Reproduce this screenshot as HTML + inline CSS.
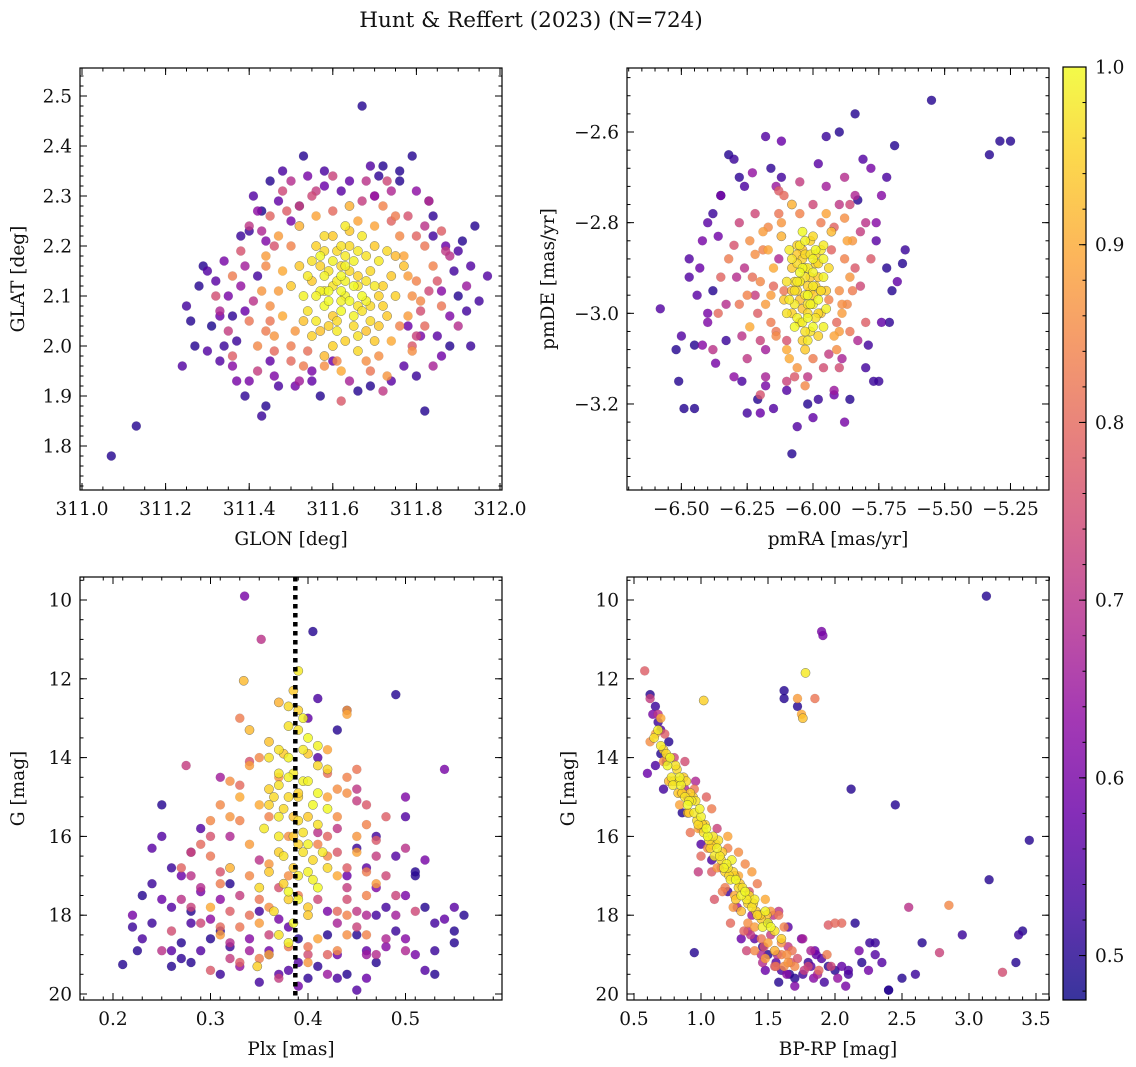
<!DOCTYPE html>
<html><head><meta charset="utf-8"><style>
body{margin:0;background:#fff;}
svg{display:block;font-family:"DejaVu Serif","Liberation Serif",serif;}
</style></head><body>
<svg id="fig" width="1136" height="1067" viewBox="0 0 1136 1067" xmlns="http://www.w3.org/2000/svg">
<rect width="1136" height="1067" fill="#fff"/>
<text x="531" y="27" font-size="21.5" text-anchor="middle" fill="#111">Hunt &amp; Reffert (2023) (N=724)</text>
<defs><linearGradient id="cbg" x1="0" y1="1" x2="0" y2="0">
<stop offset="0" stop-color="#0d0887"/><stop offset="0.1" stop-color="#41049d"/><stop offset="0.2" stop-color="#6a00a8"/><stop offset="0.3" stop-color="#8f0da4"/><stop offset="0.4" stop-color="#b12a90"/><stop offset="0.5" stop-color="#cc4778"/><stop offset="0.6" stop-color="#e16462"/><stop offset="0.7" stop-color="#f2844b"/><stop offset="0.8" stop-color="#fca636"/><stop offset="0.9" stop-color="#fcce25"/><stop offset="1" stop-color="#f0f921"/>
</linearGradient></defs>
</svg>
<script>
// ---------- Panel 1: GLON / GLAT ----------
const p1GlonHi=[311.60,311.63,311.66,311.58,311.70,311.62,311.55,311.65,311.68,311.57,
311.72,311.61,311.64,311.53,311.59,311.67,311.74,311.56,311.63,311.69,
311.60,311.66,311.71,311.52,311.58,311.65,311.62,311.75,311.54,311.67,
311.61,311.70,311.57,311.64,311.68,311.59,311.73,311.50,311.63,311.55,
311.77,311.66,311.62,311.58];
const p1GlatHi=[2.12,2.10,2.14,2.08,2.12,2.16,2.13,2.06,2.18,2.18,
2.08,2.03,2.20,2.10,2.15,2.10,2.14,2.05,2.13,2.05,
2.00,2.02,2.17,2.16,2.22,2.17,2.07,2.10,2.07,2.22,
2.19,2.01,2.11,2.09,2.13,2.04,2.19,2.12,2.24,2.02,
2.16,1.99,2.11,2.14];
const p1ProbHi=[0.97,0.99,0.95,1.00,0.98,0.96,0.94,0.99,0.97,1.00,
0.95,0.98,0.96,0.99,0.97,1.00,0.94,0.98,0.99,0.96,
0.95,0.97,0.98,0.94,0.96,0.99,1.00,0.95,0.97,0.98,
0.96,0.94,0.99,1.00,0.97,0.95,0.96,0.94,0.98,0.95,
0.93,0.96,1.00,0.99];
const p1GlonHi2=[311.61,311.64,311.59,311.66,311.62,311.57,311.69,311.63,311.60,311.67,
311.56,311.71,311.65,311.58,311.62,311.68,311.54,311.73,311.60,311.65,
311.63,311.59,311.70,311.55,311.66,311.61,311.72,311.57,311.64,311.68,
311.53,311.62,311.75,311.58,311.66,311.60,311.69,311.56,311.63,311.71];
const p1GlatHi2=[2.13,2.15,2.11,2.08,2.09,2.16,2.15,2.18,2.06,2.07,
2.10,2.10,2.12,2.19,2.20,2.03,2.14,2.06,2.17,2.04,
2.01,2.09,2.20,2.17,2.19,2.05,2.12,2.03,2.23,2.09,
2.05,2.14,2.18,2.11,2.12,2.22,2.08,2.20,2.16,2.04];
const p1ProbHi2=[0.98,0.96,1.00,0.97,0.99,0.95,0.96,0.98,0.94,0.97,
0.99,0.95,1.00,0.96,0.97,0.93,0.98,0.94,0.99,0.96,
0.95,1.00,0.94,0.97,0.98,0.96,0.95,0.93,0.94,0.99,
0.93,1.00,0.92,0.98,0.97,0.94,0.96,0.95,0.99,0.94];
const p1GlonMid=[311.48,311.45,311.78,311.80,311.52,311.70,311.76,311.46,311.50,311.74,
311.58,311.68,311.44,311.82,311.56,311.64,311.72,311.43,311.81,311.53,
311.47,311.79,311.40,311.84,311.62,311.73,311.42,311.66,311.36,311.86,
311.38,311.35,311.88,311.86,311.55,311.74,311.45,311.80,311.52,311.72,
311.32,311.90,311.62,311.42,311.84,311.48,311.68,311.36,311.92,311.60,
311.33,311.78,311.40,311.83,311.50];
const p1GlatMid=[2.15,2.08,2.06,2.13,2.24,2.24,2.22,2.02,2.00,2.01,
1.98,1.97,2.18,2.20,2.26,2.28,2.28,2.11,2.09,1.96,
2.22,1.99,2.05,2.16,1.95,1.94,2.00,2.25,2.14,2.08,
2.19,2.03,2.18,2.23,2.30,2.31,2.26,2.02,1.93,1.91,
2.10,2.04,1.89,1.95,1.96,2.31,2.33,1.98,2.12,2.34,
2.07,2.26,2.24,2.29,1.97];
const p1ProbMid=[0.90,0.86,0.88,0.84,0.91,0.89,0.85,0.87,0.83,0.90,
0.92,0.86,0.88,0.82,0.89,0.91,0.84,0.87,0.85,0.83,
0.88,0.86,0.82,0.84,0.90,0.87,0.85,0.89,0.83,0.82,
0.76,0.72,0.70,0.78,0.74,0.68,0.79,0.73,0.66,0.71,
0.75,0.69,0.77,0.72,0.67,0.74,0.70,0.78,0.65,0.73,
0.68,0.76,0.71,0.69,0.80];
const p1GlonMid2=[311.47,311.79,311.50,311.77,311.45,311.82,311.49,311.75,311.51,311.80,
311.44,311.78,311.54,311.71,311.46,311.83,311.60,311.67,311.41,311.85,
311.48,311.76,311.52,311.74,311.43,311.81,311.58,311.69,311.39,311.87,
311.50,311.73,311.46,311.79,311.56,311.64,311.44,311.82,311.61,311.70];
const p1GlatMid2=[2.11,2.10,2.20,2.18,2.05,2.04,2.27,2.26,2.03,2.22,
2.16,2.14,1.99,1.98,2.20,2.11,2.27,2.29,2.09,2.13,
2.06,2.04,2.28,2.25,2.23,2.07,1.96,1.95,2.16,2.19,
2.33,2.33,1.99,2.00,2.31,1.93,2.03,2.24,1.97,2.30];
const p1ProbMid2=[0.88,0.86,0.84,0.89,0.82,0.80,0.78,0.83,0.87,0.79,
0.85,0.88,0.81,0.86,0.76,0.74,0.80,0.72,0.70,0.77,
0.90,0.84,0.73,0.79,0.68,0.75,0.86,0.82,0.66,0.71,
0.69,0.74,0.80,0.77,0.72,0.67,0.83,0.70,0.85,0.65];
const p1GlonLo=[311.30,311.28,311.34,311.38,311.33,311.31,311.25,311.36,311.39,311.45,
311.47,311.55,311.66,311.74,311.80,311.86,311.88,311.90,311.93,311.89,
311.87,311.84,311.80,311.76,311.62,311.58,311.54,311.52,311.47,311.43,
311.41,311.44,311.42,311.39,311.53,311.67,311.69,311.72,311.76,311.97,
311.94,311.82,311.43,311.44,311.40,311.37,311.57,311.69,311.93,311.07,
311.13,311.24,311.26,311.27,311.30,311.34,311.78,311.92,311.85];
const p1GlatLo=[2.15,2.12,2.17,2.22,2.06,2.04,2.08,1.96,1.90,1.97,
1.92,1.95,1.91,1.93,1.94,1.98,2.06,2.10,2.16,2.15,
2.20,2.26,2.31,2.33,2.31,2.35,2.34,2.28,2.29,2.27,
2.30,2.21,2.14,2.07,2.38,2.48,2.36,2.36,2.35,2.14,
2.24,1.87,1.86,1.88,1.93,1.93,1.90,1.92,2.00,1.78,
1.84,1.96,2.05,2.00,1.99,2.00,2.04,2.07,2.02];
const p1ProbLo=[0.55,0.50,0.60,0.52,0.58,0.49,0.53,0.62,0.51,0.57,
0.54,0.60,0.50,0.56,0.52,0.59,0.61,0.50,0.55,0.53,
0.58,0.51,0.63,0.50,0.56,0.54,0.60,0.52,0.57,0.49,
0.55,0.61,0.53,0.58,0.50,0.50,0.55,0.50,0.50,0.55,
0.50,0.50,0.52,0.50,0.60,0.60,0.50,0.50,0.52,0.50,
0.50,0.55,0.50,0.50,0.55,0.52,0.58,0.53,0.56];
const p1GlonLo2=[311.35,311.37,311.32,311.29,311.42,311.48,311.58,311.71,311.83,311.91,
311.95,311.86,311.79,311.64,311.50,311.40,311.33,311.46,311.88,311.60,
311.38,311.84,311.77,311.51,311.36,311.90,311.45,311.70,311.55,311.81];
const p1GlatLo2=[2.10,2.01,2.13,2.16,2.27,2.35,2.32,2.34,2.29,2.21,
2.09,2.11,2.38,2.33,2.25,2.23,1.97,1.94,2.00,1.97,
2.12,2.22,1.96,1.92,2.06,2.19,2.33,2.30,1.93,2.02];
const p1ProbLo2=[0.60,0.52,0.56,0.50,0.63,0.54,0.58,0.51,0.55,0.50,
0.53,0.62,0.50,0.57,0.60,0.52,0.55,0.61,0.50,0.58,
0.64,0.53,0.56,0.59,0.51,0.54,0.50,0.62,0.57,0.60];

// ---------- Panel 2: pmRA / pmDE ----------
const p2PmraHi=[-6.03,-6.00,-6.06,-5.98,-6.05,-6.02,-6.08,-5.96,-6.01,-6.04,
-5.99,-6.07,-6.03,-5.95,-6.10,-6.02,-6.05,-5.97,-6.00,-6.06,
-6.04,-5.99,-6.09,-6.01,-5.94,-6.03,-6.07,-5.98,-6.02,-6.05,
-6.00,-6.11,-5.96,-6.04,-6.01,-6.08,-5.97,-6.03,-6.06,-5.99];
const p2PmdeHi=[-2.92,-2.88,-2.95,-2.97,-2.85,-3.00,-2.90,-2.92,-3.04,-2.82,
-2.94,-2.98,-2.87,-2.99,-2.93,-2.96,-3.02,-2.86,-2.91,-2.89,
-3.06,-3.01,-2.86,-2.95,-2.90,-2.84,-3.03,-3.05,-2.98,-2.93,
-2.83,-2.97,-3.03,-2.90,-2.87,-3.00,-2.95,-3.08,-2.93,-2.89];
const p2ProbHi=[0.97,0.99,0.95,1.00,0.98,0.96,0.94,0.99,0.97,1.00,
0.95,0.98,0.96,0.99,0.97,1.00,0.94,0.98,0.99,0.96,
0.95,0.97,0.98,0.94,0.96,0.99,1.00,0.95,0.97,0.98,
0.96,0.94,0.99,1.00,0.97,0.95,0.96,0.94,0.98,0.95];
const p2PmraHi2=[-6.02,-6.05,-5.99,-6.07,-6.00,-6.04,-5.97,-6.09,-6.01,-6.03,
-5.96,-6.06,-6.02,-5.98,-6.08,-6.04,-6.00,-5.95,-6.06,-6.03,
-6.01,-6.05,-5.98,-6.10,-6.02,-6.07,-5.99,-6.04,-5.97,-6.01,
-6.05,-6.00,-6.08,-5.96,-6.03,-6.06,-5.98,-6.02,-6.04,-6.00];
const p2PmdeHi2=[-2.90,-2.93,-2.86,-2.95,-2.98,-2.88,-2.95,-2.97,-2.92,-2.96,
-2.88,-2.85,-3.01,-3.00,-2.88,-2.99,-2.94,-2.95,-3.01,-2.90,
-2.84,-2.91,-2.92,-3.00,-3.06,-2.93,-2.87,-2.86,-3.00,-2.98,
-2.97,-3.03,-2.95,-2.85,-3.04,-2.87,-2.89,-2.94,-3.02,-2.96];
const p2ProbHi2=[0.98,0.96,1.00,0.97,0.99,0.95,0.96,0.98,0.94,0.97,
0.99,0.95,1.00,0.96,0.97,0.93,0.98,0.94,0.99,0.96,
0.95,1.00,0.94,0.97,0.98,0.96,0.95,0.93,0.94,0.99,
0.93,1.00,0.92,0.98,0.97,0.94,0.96,0.95,0.99,0.94];
const p2PmraMid=[-6.15,-5.90,-6.18,-5.88,-6.12,-5.92,-6.20,-5.86,-6.16,-6.10,
-5.93,-6.22,-5.89,-6.13,-5.95,-6.08,-6.25,-5.85,-6.14,-6.00,
-6.19,-5.91,-6.11,-5.94,-6.24,-6.06,-5.87,-6.17,-5.97,-6.28,
-6.30,-5.82,-6.27,-5.80,-6.22,-5.84,-6.35,-6.10,-5.95,-6.25,
-5.90,-6.33,-5.78,-6.05,-6.18,-5.86,-6.38,-6.13,-5.92,-6.28,
-5.83,-6.20,-6.02,-5.88,-6.36];
const p2PmdeMid=[-2.90,-2.95,-2.98,-2.88,-2.83,-3.05,-2.93,-2.92,-3.02,-3.08,
-2.82,-2.87,-3.00,-2.78,-2.78,-2.76,-2.96,-2.84,-3.05,-3.10,
-2.82,-3.08,-2.95,-2.97,-3.03,-3.12,-2.98,-2.86,-2.80,-2.98,
-2.85,-2.82,-3.05,-3.02,-2.78,-2.74,-2.92,-3.15,-2.72,-3.10,
-3.12,-2.98,-2.88,-2.71,-3.14,-2.76,-3.08,-2.73,-3.17,-2.80,
-3.06,-3.18,-3.14,-2.70,-3.00];
const p2ProbMid=[0.90,0.86,0.88,0.84,0.91,0.89,0.85,0.87,0.83,0.90,
0.92,0.86,0.88,0.82,0.89,0.91,0.84,0.87,0.85,0.83,
0.88,0.86,0.82,0.84,0.90,0.87,0.85,0.89,0.83,0.82,
0.76,0.72,0.70,0.78,0.74,0.68,0.79,0.73,0.66,0.71,
0.75,0.69,0.77,0.72,0.67,0.74,0.70,0.78,0.65,0.73,
0.68,0.76,0.71,0.69,0.80];
const p2PmraMid2=[-6.16,-5.89,-6.19,-5.87,-6.14,-5.91,-6.21,-5.85,-6.12,-5.93,
-6.17,-5.90,-6.23,-5.88,-6.10,-6.00,-6.15,-5.94,-6.26,-5.84,
-6.09,-6.05,-6.20,-5.92,-6.13,-5.96,-6.24,-5.86,-6.18,-5.90,
-6.29,-5.82,-6.11,-6.07,-6.22,-5.89,-6.32,-5.80,-6.03,-6.14];
const p2PmdeMid2=[-2.96,-2.98,-2.86,-2.84,-3.04,-3.02,-3.00,-2.95,-2.80,-2.86,
-2.81,-3.04,-2.92,-2.79,-3.06,-2.76,-2.94,-3.09,-2.90,-2.90,
-3.10,-2.78,-3.06,-2.81,-2.88,-3.12,-2.84,-3.04,-3.08,-2.76,
-2.92,-2.94,-2.74,-3.14,-2.96,-3.10,-2.88,-2.80,-3.16,-2.72];
const p2ProbMid2=[0.88,0.86,0.84,0.89,0.82,0.80,0.78,0.83,0.87,0.79,
0.85,0.88,0.81,0.86,0.76,0.74,0.80,0.72,0.70,0.77,
0.90,0.84,0.73,0.79,0.68,0.75,0.86,0.82,0.66,0.71,
0.69,0.74,0.80,0.77,0.72,0.67,0.83,0.70,0.85,0.65];
const p2PmraLo=[-5.55,-5.33,-5.29,-5.25,-5.84,-6.58,-6.51,-6.49,-6.45,-6.08,
-6.06,-5.75,-5.69,-5.65,-5.66,-5.88,-6.32,-6.30,-6.18,-6.12,
-5.95,-5.90,-6.50,-6.45,-6.42,-6.37,-6.21,-6.15,-5.79,-5.77,
-6.40,-6.43,-6.38,-5.72,-5.70,-5.74,-6.35,-6.28,-5.81,-6.25,
-6.02,-5.98,-6.47,-6.40,-5.76];
const p2PmdeLo=[-2.53,-2.65,-2.62,-2.62,-2.56,-2.99,-3.15,-3.21,-3.21,-3.31,
-3.25,-3.15,-2.63,-2.86,-2.89,-3.24,-2.65,-2.66,-2.61,-2.62,
-2.61,-2.60,-3.05,-3.07,-3.07,-3.11,-3.19,-3.21,-3.07,-3.15,
-2.80,-2.90,-2.95,-2.70,-2.95,-3.02,-2.74,-2.70,-2.66,-3.22,
-3.20,-3.19,-2.92,-3.00,-2.84];
const p2ProbLo=[0.50,0.50,0.50,0.50,0.50,0.55,0.50,0.50,0.50,0.50,
0.55,0.52,0.50,0.52,0.50,0.60,0.50,0.52,0.55,0.58,
0.52,0.50,0.55,0.50,0.62,0.60,0.50,0.55,0.53,0.52,
0.56,0.58,0.50,0.54,0.50,0.57,0.60,0.51,0.55,0.53,
0.50,0.52,0.55,0.60,0.56];
const p2PmraLo2=[-6.42,-6.38,-6.44,-6.35,-6.30,-6.26,-6.20,-6.16,-6.10,-5.86,
-5.80,-5.74,-5.72,-5.68,-5.78,-6.33,-6.47,-6.40,-5.83,-5.92,
-6.23,-6.12,-5.98,-6.36,-5.71,-6.27,-6.52,-5.76,-6.00,-6.18];
const p2PmdeLo2=[-2.84,-2.78,-2.96,-2.74,-3.14,-2.72,-3.22,-2.68,-3.17,-3.19,
-3.12,-2.74,-2.90,-2.93,-2.68,-3.06,-2.88,-3.02,-2.75,-3.18,
-2.69,-2.70,-2.67,-2.83,-3.02,-3.15,-3.08,-2.80,-3.23,-3.16];
const p2ProbLo2=[0.60,0.52,0.56,0.50,0.63,0.54,0.58,0.51,0.55,0.50,
0.53,0.62,0.50,0.57,0.60,0.52,0.55,0.61,0.50,0.58,
0.64,0.53,0.56,0.59,0.51,0.54,0.50,0.62,0.57,0.60];

// ---------- Panel 3: Plx / G ----------
const p3PlxHi=[0.36,0.38,0.39,0.40,0.37,0.41,0.385,0.395,0.375,0.405,
0.36,0.39,0.38,0.40,0.37,0.41,0.385,0.355,0.395,0.42,
0.38,0.39,0.37,0.40,0.365,0.41,0.385,0.375,0.395,0.39,
0.35,0.40,0.38,0.42,0.37,0.39,0.405,0.36,0.334,0.348];
const p3GHi=[14.0,14.5,15.0,13.5,15.5,14.2,16.0,13.0,16.5,15.2,
14.8,17.0,12.7,16.2,13.8,17.3,12.3,15.8,14.6,16.8,
17.6,13.3,16.0,17.8,15.0,13.7,18.2,17.2,16.4,11.8,
17.3,15.5,14.0,15.3,18.5,14.9,16.6,16.9,12.05,19.3];
const p3ProbHi=[0.97,0.99,0.95,1.00,0.98,0.96,0.94,0.99,0.97,1.00,
0.95,0.98,0.96,0.99,0.97,1.00,0.94,0.98,0.99,0.96,
0.95,0.97,0.98,0.94,0.96,0.99,1.00,0.95,0.97,0.98,
0.96,0.94,0.99,1.00,0.97,0.95,0.96,0.94,0.92,0.95];
const p3PlxHi2=[0.37,0.39,0.41,0.38,0.40,0.36,0.42,0.385,0.375,0.395,
0.40,0.37,0.39,0.38,0.41,0.36,0.395,0.385,0.405,0.375,
0.39,0.38,0.40,0.37,0.415,0.365,0.39,0.385,0.40,0.38];
const p3GHi2=[14.4,15.6,14.9,13.2,16.9,15.2,14.3,14.4,13.9,15.9,
14.6,16.4,17.6,15.0,15.7,13.6,13.8,16.8,17.1,15.3,
16.2,17.4,13.9,14.7,16.4,17.9,12.8,15.5,18.0,18.7];
const p3ProbHi2=[0.98,0.96,1.00,0.97,0.99,0.95,0.96,0.98,0.94,0.97,
0.99,0.95,1.00,0.96,0.97,0.93,0.98,0.94,0.99,0.96,
0.95,1.00,0.94,0.97,0.98,0.96,0.95,0.93,0.94,0.99];
const p3PlxMid=[0.33,0.43,0.34,0.44,0.32,0.42,0.35,0.45,0.31,0.43,
0.34,0.36,0.44,0.33,0.41,0.37,0.46,0.32,0.42,0.38,
0.35,0.43,0.30,0.44,0.36,0.40,0.34,0.42,0.33,0.45,
0.31,0.38,0.41,0.35,0.43,0.37,0.44,0.39,0.32,0.46,
0.30,0.47,0.28,0.48,0.29,0.46,0.27,0.49,0.31,0.45,
0.26,0.47,0.30,0.44,0.352,0.275,0.50,0.33,0.42,0.28,
0.48,0.34,0.43,0.32,0.29,0.51,0.25,0.46,0.37,0.40];
const p3GMid=[15.0,15.5,16.2,14.5,16.8,13.8,14.0,16.0,17.2,17.0,
13.3,17.8,12.8,18.3,18.6,12.6,17.5,15.5,16.5,18.8,
18.2,14.8,16.5,18.0,19.0,19.2,17.0,15.0,13.0,14.3,
18.5,17.0,16.2,15.2,18.9,14.5,12.9,17.5,14.6,15.7,
16.0,16.5,17.0,15.5,18.2,18.0,16.8,17.5,14.5,14.8,
18.4,19.0,19.4,17.3,11.0,14.2,16.3,19.2,19.5,17.8,
18.6,14.1,15.8,18.7,16.2,17.9,18.9,15.2,19.6,19.0];
const p3ProbMid=[0.90,0.86,0.88,0.84,0.91,0.89,0.85,0.87,0.83,0.90,
0.92,0.86,0.88,0.82,0.89,0.91,0.84,0.87,0.85,0.83,
0.88,0.86,0.82,0.84,0.90,0.87,0.85,0.89,0.83,0.82,
0.88,0.86,0.84,0.90,0.85,0.87,0.89,0.83,0.86,0.84,
0.76,0.72,0.70,0.78,0.74,0.68,0.79,0.73,0.66,0.71,
0.75,0.69,0.77,0.72,0.70,0.72,0.70,0.78,0.65,0.73,
0.68,0.76,0.71,0.69,0.80,0.74,0.70,0.77,0.72,0.75];
const p3PlxMid2=[0.34,0.44,0.33,0.45,0.35,0.43,0.32,0.46,0.36,0.42,
0.31,0.47,0.34,0.44,0.37,0.41,0.33,0.45,0.35,0.43,
0.30,0.46,0.36,0.42,0.32,0.44,0.38,0.40,0.34,0.45,
0.29,0.48,0.31,0.47,0.33,0.43,0.35,0.41,0.30,0.46,
0.27,0.49,0.28,0.50,0.32,0.44,0.36,0.42,0.31,0.45];
const p3GMid2=[14.2,14.9,15.6,16.4,17.6,17.9,17.9,16.9,16.7,16.0,
15.2,17.2,18.0,18.5,17.3,17.6,14.7,15.1,16.6,16.4,
17.8,18.5,18.5,19.0,16.0,17.6,16.0,18.8,18.9,17.9,
17.3,17.0,18.3,16.1,17.5,18.2,19.1,15.9,15.6,19.0,
17.6,18.0,16.4,18.9,19.1,16.8,15.5,14.4,16.9,18.3];
const p3ProbMid2=[0.88,0.86,0.84,0.89,0.82,0.80,0.78,0.83,0.87,0.79,
0.85,0.88,0.81,0.86,0.76,0.74,0.80,0.72,0.70,0.77,
0.90,0.84,0.73,0.79,0.68,0.75,0.86,0.82,0.66,0.71,
0.69,0.74,0.80,0.77,0.72,0.67,0.83,0.70,0.85,0.65,
0.70,0.66,0.74,0.68,0.72,0.78,0.84,0.81,0.76,0.73];
const p3PlxLo=[0.335,0.405,0.49,0.21,0.225,0.23,0.54,0.55,0.56,0.25,
0.26,0.24,0.27,0.22,0.28,0.29,0.30,0.31,0.25,0.27,
0.32,0.44,0.45,0.47,0.48,0.50,0.51,0.52,0.53,0.49,
0.46,0.43,0.42,0.41,0.44,0.40,0.37,0.36,0.38,0.35,
0.39,0.45,0.50,0.52,0.55,0.26,0.28,0.47,0.41,0.43];
const p3GLo=[9.9,10.8,12.4,19.25,18.9,17.5,14.3,18.7,18.0,15.2,
17.8,18.2,18.7,18.3,19.2,17.4,18.6,19.5,16.0,17.0,
18.8,19.5,19.9,19.2,18.8,17.5,17.0,19.4,18.2,18.4,
16.8,19.0,18.5,12.5,12.8,13.0,18.1,19.0,19.4,17.9,
18.6,16.3,15.5,16.6,17.8,19.3,16.4,18.0,14.0,13.3];
const p3ProbLo=[0.60,0.50,0.50,0.50,0.50,0.50,0.60,0.50,0.50,0.50,
0.55,0.52,0.50,0.52,0.50,0.60,0.50,0.52,0.55,0.58,
0.52,0.50,0.55,0.50,0.62,0.60,0.50,0.55,0.53,0.52,
0.56,0.58,0.50,0.54,0.50,0.57,0.60,0.51,0.55,0.53,
0.50,0.52,0.55,0.60,0.56,0.50,0.58,0.53,0.55,0.50];
const p3PlxLo2=[0.22,0.24,0.26,0.28,0.30,0.23,0.25,0.27,0.29,0.31,
0.48,0.50,0.52,0.54,0.51,0.53,0.49,0.47,0.55,0.46,
0.33,0.35,0.37,0.39,0.41,0.43,0.45,0.34,0.38,0.42,
0.26,0.29,0.32,0.44,0.47,0.50,0.53,0.24,0.28,0.36,
0.40,0.46,0.51,0.31,0.39];
const p3GLo2=[18.0,17.2,18.9,17.9,18.1,18.6,17.6,19.1,18.9,18.4,
17.8,18.6,17.8,18.1,19.0,18.9,16.5,17.3,18.4,19.6,
19.3,19.7,19.5,19.8,19.3,19.6,18.5,18.6,18.3,17.9,
16.8,15.8,17.2,17.0,16.0,15.0,19.5,16.3,18.2,18.9,
19.6,18.9,16.9,17.6,19.2];
const p3ProbLo2=[0.60,0.52,0.56,0.50,0.63,0.54,0.58,0.51,0.55,0.50,
0.53,0.62,0.50,0.57,0.60,0.52,0.55,0.61,0.50,0.58,
0.64,0.53,0.56,0.59,0.51,0.54,0.50,0.62,0.57,0.60,
0.52,0.55,0.50,0.58,0.53,0.61,0.50,0.56,0.54,0.59,
0.51,0.57,0.50,0.63,0.55];
const p3PlxLine=0.387;

// ---------- Panel 4: BP-RP / G ----------
const p4ColHi=[0.65,0.68,0.72,0.75,0.78,0.80,0.83,0.85,0.88,0.90,
0.92,0.95,0.97,1.00,1.02,1.05,1.08,1.10,1.12,1.15,
1.18,1.20,1.22,1.25,1.28,1.30,1.33,1.35,1.38,1.40,
1.42,1.45,1.48,1.50,1.55,1.60,0.82,0.87,0.93,1.03,
1.13,1.23,1.02,1.78,1.76];
const p4GHi=[13.5,13.3,13.8,14.2,14.5,14.6,14.9,14.7,15.0,15.2,
14.9,15.4,15.6,15.5,15.9,16.0,16.2,16.5,16.3,16.6,
16.9,16.8,17.1,17.0,17.3,17.5,17.4,17.7,17.8,17.6,
18.0,18.1,17.9,18.2,18.4,18.6,14.3,14.5,15.1,15.7,
16.1,16.6,12.55,11.85,13.0];
const p4ProbHi=[0.97,0.99,0.95,1.00,0.98,0.96,0.94,0.99,0.97,1.00,
0.95,0.98,0.96,0.99,0.97,1.00,0.94,0.98,0.99,0.96,
0.95,0.97,0.98,0.94,0.96,0.99,1.00,0.95,0.97,0.98,
0.96,0.94,0.99,1.00,0.97,0.95,0.96,0.94,0.98,0.95,
0.97,0.99,0.95,0.98,0.93];
const p4ColHi2=[0.70,0.74,0.77,0.81,0.84,0.86,0.89,0.91,0.94,0.96,
0.99,1.01,1.04,1.06,1.09,1.11,1.14,1.16,1.19,1.21,
1.24,1.26,1.29,1.31,1.34,1.36,1.39,1.41,1.44,1.46,
1.49,1.52,0.76,0.79,0.84,0.91,0.98,1.07,1.17,1.26];
const p4GHi2=[13.7,13.9,14.0,14.2,14.5,14.9,14.6,15.1,15.0,15.1,
15.3,15.7,15.8,16.1,16.0,16.2,16.5,16.4,16.7,17.0,
16.9,17.1,17.2,17.3,17.6,17.5,17.7,17.9,18.0,18.3,
18.0,18.3,14.6,14.7,14.6,15.4,15.7,16.3,16.8,17.6];
const p4ProbHi2=[0.98,0.96,1.00,0.97,0.99,0.95,0.96,0.98,0.94,0.97,
0.99,0.95,1.00,0.96,0.97,0.93,0.98,0.94,0.99,0.96,
0.95,1.00,0.94,0.97,0.98,0.96,0.95,0.93,0.94,0.99,
0.93,1.00,0.92,0.98,0.97,0.94,0.96,0.95,0.99,0.94];
const p4ColMid=[0.70,0.62,0.75,0.85,0.90,0.98,1.05,1.12,1.18,1.25,
1.30,1.35,1.40,1.45,1.50,1.55,1.60,1.65,1.70,1.42,
1.38,1.28,1.58,1.62,1.48,1.52,1.33,1.20,1.08,0.95,
1.72,1.75,1.85,2.05,2.85,0.58,0.62,0.68,0.73,0.80,
0.88,1.00,1.15,1.27,1.37,1.47,1.57,1.67,1.77,1.87,
1.97,2.00,1.95,3.25,2.78,2.55,1.45,1.55,1.65,1.35];
const p4GMid=[13.0,13.6,14.0,14.9,15.4,15.8,16.3,16.8,17.3,17.5,
17.9,18.2,18.3,18.6,18.7,18.9,19.0,19.2,19.3,17.2,
16.9,16.4,18.0,18.3,17.6,17.9,16.7,16.0,15.3,14.8,
12.5,12.9,12.5,18.2,17.75,11.8,12.5,12.9,13.4,14.0,
14.8,15.8,16.8,17.8,18.5,18.8,19.0,19.2,19.4,19.5,
19.3,18.2,18.25,19.45,18.95,17.8,19.0,19.3,18.8,18.4];
const p4ProbMid=[0.90,0.86,0.88,0.84,0.91,0.89,0.85,0.87,0.83,0.90,
0.92,0.86,0.88,0.82,0.89,0.91,0.84,0.87,0.85,0.83,
0.88,0.86,0.82,0.84,0.90,0.87,0.85,0.89,0.83,0.82,
0.88,0.90,0.82,0.80,0.85,0.78,0.72,0.70,0.78,0.74,
0.68,0.79,0.73,0.66,0.71,0.75,0.69,0.77,0.72,0.67,
0.74,0.80,0.78,0.75,0.73,0.70,0.68,0.76,0.71,0.69];
const p4ColMid2=[0.66,0.72,0.78,0.84,0.92,1.00,1.08,1.16,1.24,1.32,
1.40,1.48,1.56,1.64,1.72,1.80,1.88,1.52,1.44,1.36,
1.28,1.20,1.12,1.04,0.96,0.88,1.60,1.68,1.76,1.58,
1.46,1.34,1.22,1.10,0.98,1.82,1.94,1.54,1.62,1.38];
const p4GMid2=[13.4,14.1,14.6,15.2,15.9,16.5,16.9,17.4,17.8,18.4,
18.9,19.1,19.3,19.0,19.1,19.3,19.4,18.5,18.0,17.4,
17.0,16.3,15.8,15.0,14.6,14.1,18.7,18.9,18.6,17.9,
19.2,18.9,18.2,17.6,16.9,18.9,19.0,18.0,19.3,18.0];
const p4ProbMid2=[0.88,0.86,0.84,0.89,0.82,0.80,0.78,0.83,0.87,0.79,
0.85,0.88,0.81,0.86,0.76,0.74,0.80,0.72,0.70,0.77,
0.90,0.84,0.73,0.79,0.68,0.75,0.86,0.82,0.66,0.71,
0.69,0.74,0.80,0.77,0.72,0.67,0.83,0.70,0.85,0.65];
const p4ColLo=[0.62,0.66,0.70,0.76,0.60,0.72,0.86,1.00,1.20,1.40,
1.50,1.60,1.70,1.80,1.90,2.00,2.10,2.20,2.30,2.40,
2.50,2.60,2.15,2.30,1.72,1.62,1.62,1.90,1.91,3.13,
3.45,3.15,3.40,3.37,3.35,2.45,2.12,2.95,2.65,0.95,
2.40,2.10,1.85,1.75,1.65];
const p4GLo=[12.4,12.7,13.3,13.6,14.4,14.8,15.4,16.2,17.4,18.6,
19.0,19.4,19.6,19.2,19.1,19.4,19.5,19.2,18.7,19.9,
19.6,19.5,18.2,19.0,12.7,12.3,12.5,10.8,10.9,9.9,
16.1,17.1,18.4,18.5,19.2,15.2,14.8,18.5,18.7,18.95,
19.9,19.4,18.9,18.6,18.3];
const p4ProbLo=[0.50,0.52,0.55,0.50,0.58,0.53,0.50,0.55,0.52,0.56,
0.50,0.54,0.50,0.52,0.55,0.50,0.53,0.50,0.52,0.50,
0.50,0.52,0.50,0.55,0.50,0.50,0.50,0.60,0.60,0.50,
0.50,0.50,0.50,0.52,0.50,0.50,0.50,0.52,0.50,0.50,
0.50,0.55,0.58,0.60,0.56];
const p4ColLo2=[0.64,0.68,0.74,0.82,0.90,1.08,1.30,1.46,1.56,1.66,
1.76,1.84,1.95,2.05,2.18,2.26,2.35,1.70,1.58,1.48,
2.02,1.92,1.82,2.25,1.50,0.66,0.70,1.64,1.86,2.08];
const p4GLo2=[12.9,13.1,14.1,14.6,15.0,16.6,18.6,18.8,19.2,19.5,
19.5,19.6,19.3,19.3,18.9,18.7,19.2,19.8,19.7,19.4,
19.6,19.7,19.3,19.4,18.2,14.2,13.9,19.5,19.0,19.8];
const p4ProbLo2=[0.60,0.52,0.56,0.50,0.63,0.54,0.58,0.51,0.55,0.50,
0.53,0.62,0.50,0.57,0.60,0.52,0.55,0.61,0.50,0.58,
0.64,0.53,0.56,0.59,0.51,0.54,0.50,0.62,0.57,0.60];

// colorbar
const cbTicks=[0.5,0.6,0.7,0.8,0.9,1.0];
const vmin=0.475, vmax=1.0;

const NS='http://www.w3.org/2000/svg';
const svg=document.getElementById('fig');
const FS=18.5;
function mk(tag,attrs,parent){const e=document.createElementNS(NS,tag);for(const k in attrs)e.setAttribute(k,attrs[k]);(parent||svg).appendChild(e);return e;}

const stops=[[13,8,135],[65,4,157],[106,0,168],[143,13,164],[177,42,144],[204,71,120],[225,100,98],[242,132,75],[252,166,54],[252,206,37],[240,249,33]];
function plasma(v){let t=(v-vmin)/(vmax-vmin);t=Math.max(0,Math.min(1,t))*10;const i=Math.min(9,Math.floor(t)),f=t-i;const a=stops[i],b=stops[i+1];return 'rgb('+a.map((c,k)=>Math.round(c+(b[k]-c)*f)).join(',')+')';}
function fmt(v,d){const s=v.toFixed(d);return s.replace('-','\u2212');}

function panel(o){
  const g=mk('g',{});
  
  
  const sx=v=>o.px0+(v-o.xv0)*o.xs;
  const sy=v=>o.py0+(v-o.yv0)*o.ys;
  const clip=mk('clipPath',{id:'c'+o.name},g);
  mk('rect',{x:o.L,y:o.T,width:o.R-o.L,height:o.B-o.T},clip);
  const pts=mk('g',{'clip-path':'url(#c'+o.name+')'},g);
  
  
  const X=[],Y=[],P=[];
  o.groups.forEach(gr=>{const n=Math.min(gr[0].length,gr[1].length,gr[2].length);for(let i=0;i<n;i++){X.push(gr[0][i]);Y.push(gr[1][i]);P.push(gr[2][i]);}});
  const idx=X.map((_,i)=>i).sort((a,b)=>P[a]-P[b]);
  idx.forEach(i=>{
    const c=mk('circle',{cx:sx(X[i]).toFixed(1),cy:sy(Y[i]).toFixed(1),r:4.6,fill:plasma(P[i]),'fill-opacity':0.82,stroke:'#444','stroke-opacity':P[i]>0.9?0.7:0.15,'stroke-width':0.5},pts);
    
    
  });
  if(o.vline!==undefined){
    const l=mk('line',{x1:sx(o.vline),x2:sx(o.vline),y1:o.T,y2:o.B,stroke:'#000','stroke-width':4.5,'stroke-dasharray':'4.5,4.5'},g);
    
    
  }
  const tk=mk('g',{stroke:'#000','stroke-width':1},g);
  const inX=v=>{const p=sx(v);return p>=o.L-0.5&&p<=o.R+0.5;};
  const inY=v=>{const p=sy(v);return p>=o.T-0.5&&p<=o.B+0.5;};
  o.xMinor.forEach(v=>{if(!inX(v))return;const p=sx(v);mk('line',{x1:p,x2:p,y1:o.B,y2:o.B-3.5},tk);mk('line',{x1:p,x2:p,y1:o.T,y2:o.T+3.5},tk);});
  o.yMinor.forEach(v=>{if(!inY(v))return;const p=sy(v);mk('line',{y1:p,y2:p,x1:o.L,x2:o.L+3.5},tk);mk('line',{y1:p,y2:p,x1:o.R,x2:o.R-3.5},tk);});
  o.xTicks.forEach(v=>{if(!inX(v))return;const p=sx(v);mk('line',{x1:p,x2:p,y1:o.B,y2:o.B-7},tk);mk('line',{x1:p,x2:p,y1:o.T,y2:o.T+7},tk);
    const t=mk('text',{x:p,y:o.B+25,'font-size':FS,'text-anchor':'middle',fill:'#111'},g);t.textContent=fmt(v,o.xd);
    });
  o.yTicks.forEach(v=>{if(!inY(v))return;const p=sy(v);mk('line',{y1:p,y2:p,x1:o.L,x2:o.L+7},tk);mk('line',{y1:p,y2:p,x1:o.R,x2:o.R-7},tk);
    const t=mk('text',{x:o.L-8,y:p+6.5,'font-size':FS,'text-anchor':'end',fill:'#111'},g);t.textContent=fmt(v,o.yd);
    });
  const fr=mk('rect',{x:o.L,y:o.T,width:o.R-o.L,height:o.B-o.T,fill:'none',stroke:'#000','stroke-width':1.2},g);
  
  const xl=mk('text',{x:(o.L+o.R)/2,y:o.B+55,'font-size':FS,'text-anchor':'middle',fill:'#111'},g);xl.textContent=o.xlabel;
  
  const yx=o.ylx,yy=(o.T+o.B)/2;
  const yl=mk('text',{x:yx,y:yy,'font-size':FS,'text-anchor':'middle',fill:'#111',transform:'rotate(-90 '+yx+' '+yy+')'},g);yl.textContent=o.ylabel;
  
}
function range(a,b,s){const r=[];for(let v=a;v<=b+1e-9;v+=s)r.push(Math.round(v*1000)/1000);return r;}

panel({name:'glon-glat-panel',L:80,R:502,T:68,B:490,px0:82,xv0:311.0,xs:418,py0:96,yv0:2.5,ys:-500,
  groups:[[p1GlonLo,p1GlatLo,p1ProbLo],[p1GlonLo2,p1GlatLo2,p1ProbLo2],[p1GlonMid,p1GlatMid,p1ProbMid],[p1GlonMid2,p1GlatMid2,p1ProbMid2],[p1GlonHi,p1GlatHi,p1ProbHi],[p1GlonHi2,p1GlatHi2,p1ProbHi2]],
  xTicks:range(311.0,312.0,0.2),xMinor:range(310.95,312.05,0.05),xd:1,
  yTicks:range(1.8,2.5,0.1),yMinor:range(1.7,2.56,0.02),yd:1,xlabel:'GLON [deg]',ylabel:'GLAT [deg]',ylx:24});
panel({name:'pmra-pmde-panel',L:627,R:1049,T:68,B:490,px0:813,xv0:-6.0,xs:263.3,py0:132,yv0:-2.6,ys:-453.3,
  groups:[[p2PmraLo,p2PmdeLo,p2ProbLo],[p2PmraLo2,p2PmdeLo2,p2ProbLo2],[p2PmraMid,p2PmdeMid,p2ProbMid],[p2PmraMid2,p2PmdeMid2,p2ProbMid2],[p2PmraHi,p2PmdeHi,p2ProbHi],[p2PmraHi2,p2PmdeHi2,p2ProbHi2]],
  xTicks:range(-6.5,-5.25,0.25),xMinor:range(-6.75,-5.05,0.05),xd:2,
  yTicks:[-3.2,-3.0,-2.8,-2.6],yMinor:range(-3.4,-2.44,0.04),yd:1,xlabel:'pmRA [mas/yr]',ylabel:'pmDE [mas/yr]',ylx:554});
panel({name:'plx-g-panel',L:80,R:502,T:577,B:1000,px0:113,xv0:0.2,xs:975,py0:600,yv0:10,ys:39.4,vline:p3PlxLine,
  groups:[[p3PlxLo,p3GLo,p3ProbLo],[p3PlxLo2,p3GLo2,p3ProbLo2],[p3PlxMid,p3GMid,p3ProbMid],[p3PlxMid2,p3GMid2,p3ProbMid2],[p3PlxHi,p3GHi,p3ProbHi],[p3PlxHi2,p3GHi2,p3ProbHi2]],
  xTicks:range(0.2,0.5,0.1),xMinor:range(0.17,0.6,0.02),xd:1,
  yTicks:range(10,20,2),yMinor:range(9.5,20.5,0.5),yd:0,xlabel:'Plx [mas]',ylabel:'G [mag]',ylx:24});
panel({name:'bprp-g-panel',L:627,R:1049,T:577,B:1000,px0:634,xv0:0.5,xs:134,py0:600,yv0:10,ys:39.4,
  groups:[[p4ColLo,p4GLo,p4ProbLo],[p4ColLo2,p4GLo2,p4ProbLo2],[p4ColMid,p4GMid,p4ProbMid],[p4ColMid2,p4GMid2,p4ProbMid2],[p4ColHi,p4GHi,p4ProbHi],[p4ColHi2,p4GHi2,p4ProbHi2]],
  xTicks:range(0.5,3.5,0.5),xMinor:range(0.4,3.7,0.1),xd:1,
  yTicks:range(10,20,2),yMinor:range(9.5,20.5,0.5),yd:0,xlabel:'BP-RP [mag]',ylabel:'G [mag]',ylx:574});

(function(){
  const L=1063,R=1086,T=67,B=1000;
  const g=mk('g',{});
  
  
  mk('rect',{x:L,y:T,width:R-L,height:B-T,fill:'url(#cbg)','fill-opacity':0.82},g);
  const cy=v=>B-(v-vmin)/(vmax-vmin)*(B-T);
  range(0.48,1.0,0.02).forEach(v=>{const p=cy(v);mk('line',{x1:R,x2:R-3.5,y1:p,y2:p,stroke:'#000','stroke-width':1},g);});
  cbTicks.forEach(v=>{const p=cy(v);mk('line',{x1:R,x2:R-7,y1:p,y2:p,stroke:'#000','stroke-width':1},g);
    const t=mk('text',{x:R+9,y:p+6.5,'font-size':FS,fill:'#111'},g);t.textContent=v.toFixed(1);
    });
  mk('rect',{x:L,y:T,width:R-L,height:B-T,fill:'none',stroke:'#000','stroke-width':1.2},g);
})();
</script>
</body></html>
